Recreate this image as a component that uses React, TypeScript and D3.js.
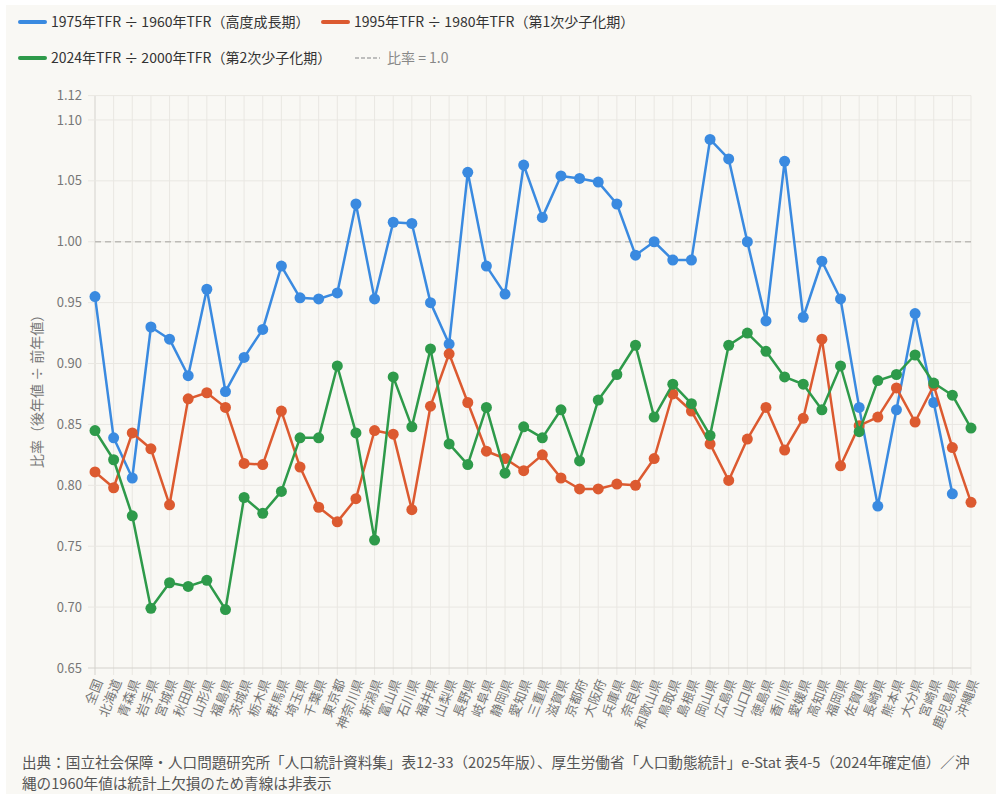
import React, { useEffect, useRef } from 'react';
import * as d3 from 'd3';

const prefectures = [
  '全国', '北海道', '青森県', '岩手県', '宮城県', '秋田県', '山形県', '福島県', '茨城県', '栃木県',
  '群馬県', '埼玉県', '千葉県', '東京都', '神奈川県', '新潟県', '富山県', '石川県', '福井県', '山梨県',
  '長野県', '岐阜県', '静岡県', '愛知県', '三重県', '滋賀県', '京都府', '大阪府', '兵庫県', '奈良県',
  '和歌山県', '鳥取県', '島根県', '岡山県', '広島県', '山口県', '徳島県', '香川県', '愛媛県', '高知県',
  '福岡県', '佐賀県', '長崎県', '熊本県', '大分県', '宮崎県', '鹿児島県', '沖縄県',
];

// 1975年TFR ÷ 1960年TFR (沖縄は欠損)
const ratio1975 = [
  0.955, 0.839, 0.806, 0.930, 0.920, 0.890, 0.961, 0.877, 0.905, 0.928,
  0.980, 0.954, 0.953, 0.958, 1.031, 0.953, 1.016, 1.015, 0.950, 0.916,
  1.057, 0.980, 0.957, 1.063, 1.020, 1.054, 1.052, 1.049, 1.031, 0.989,
  1.000, 0.985, 0.985, 1.084, 1.068, 1.000, 0.935, 1.066, 0.938, 0.984,
  0.953, 0.864, 0.783, 0.862, 0.941, 0.868, 0.793, null,
];

// 1995年TFR ÷ 1980年TFR
const ratio1995 = [
  0.811, 0.798, 0.843, 0.830, 0.784, 0.871, 0.876, 0.864, 0.818, 0.817,
  0.861, 0.815, 0.782, 0.770, 0.789, 0.845, 0.842, 0.780, 0.865, 0.908,
  0.868, 0.828, 0.822, 0.812, 0.825, 0.806, 0.797, 0.797, 0.801, 0.800,
  0.822, 0.875, 0.861, 0.834, 0.804, 0.838, 0.864, 0.829, 0.855, 0.920,
  0.816, 0.849, 0.856, 0.880, 0.852, 0.882, 0.831, 0.786,
];

// 2024年TFR ÷ 2000年TFR
const ratio2024 = [
  0.845, 0.821, 0.775, 0.699, 0.720, 0.717, 0.722, 0.698, 0.790, 0.777,
  0.795, 0.839, 0.839, 0.898, 0.843, 0.755, 0.889, 0.848, 0.912, 0.834,
  0.817, 0.864, 0.810, 0.848, 0.839, 0.862, 0.820, 0.870, 0.891, 0.915,
  0.856, 0.883, 0.867, 0.841, 0.915, 0.925, 0.910, 0.889, 0.883, 0.862,
  0.898, 0.844, 0.886, 0.891, 0.907, 0.884, 0.874, 0.847,
];

const yTicks = [0.65, 0.70, 0.75, 0.80, 0.85, 0.90, 0.95, 1.00, 1.05, 1.10, 1.12];

const seriesList = [
  { name: '1975年TFR ÷ 1960年TFR（高度成長期）', color: '#3a8ae0', values: ratio1975 },
  { name: '1995年TFR ÷ 1980年TFR（第1次少子化期）', color: '#dc5a30', values: ratio1995 },
  { name: '2024年TFR ÷ 2000年TFR（第2次少子化期）', color: '#2e9a4a', values: ratio2024 },
];

const FONT = '"Noto Sans CJK JP", "Noto Sans", sans-serif';

const App = () => {
  const svgRef = useRef<SVGSVGElement>(null);

  useEffect(() => {
    document.body.style.margin = '0';
    const width = 996;
    const height = 794;
    const margin = { top: 95.6, right: 25, bottom: 126, left: 95 };

    const svg = d3.select(svgRef.current);
    svg.selectAll('*').remove();
    svg.attr('width', width).attr('height', height).style('font-family', FONT);

    svg.append('rect').attr('width', width).attr('height', height).attr('fill', '#ffffff');
    svg.append('rect').attr('x', 6).attr('y', 5).attr('width', width - 6).attr('height', height - 5).attr('fill', '#f9f8f4');

    const x = d3.scalePoint<string>()
      .domain(prefectures)
      .range([margin.left, width - margin.right]);

    const y = d3.scaleLinear()
      .domain([0.65, 1.12])
      .range([height - margin.bottom, margin.top]);

    const plotBottom = height - margin.bottom;
    const plotTop = margin.top;

    // grid
    const grid = svg.append('g');
    grid.selectAll('.vgrid')
      .data(prefectures)
      .enter().append('line')
      .attr('x1', d => x(d)!)
      .attr('x2', d => x(d)!)
      .attr('y1', plotTop)
      .attr('y2', plotBottom + 7)
      .attr('stroke', (d, i) => (i === 0 ? '#d4d2cd' : '#e9e7e2'))
      .attr('stroke-width', 1);

    grid.selectAll('.hgrid')
      .data(yTicks)
      .enter().append('line')
      .attr('x1', margin.left - 7)
      .attr('x2', width - margin.right)
      .attr('y1', d => y(d))
      .attr('y2', d => y(d))
      .attr('stroke', d => (d === 0.65 ? '#d4d2cd' : '#e9e7e2'))
      .attr('stroke-width', 1);

    // y tick labels
    svg.append('g').selectAll('text')
      .data(yTicks)
      .enter().append('text')
      .attr('x', margin.left - 13)
      .attr('y', d => y(d))
      .attr('dy', '0.35em')
      .attr('text-anchor', 'end')
      .attr('font-size', 13)
      .attr('fill', '#777')
      .text(d => d.toFixed(2));

    // y title
    svg.append('text')
      .attr('transform', `translate(42,${(plotTop + plotBottom) / 2 + 6}) rotate(-90)`)
      .attr('text-anchor', 'middle')
      .attr('font-size', 14)
      .attr('fill', '#777')
      .text('比率（後年値 ÷ 前年値）');

    // x labels
    svg.append('g').selectAll('text')
      .data(prefectures)
      .enter().append('text')
      .attr('transform', d => `translate(${x(d)! + 4},${plotBottom + 12}) rotate(-68)`)
      .attr('text-anchor', 'end')
      .attr('dy', '0.35em')
      .attr('font-size', 13)
      .attr('fill', '#777')
      .text(d => d);

    // reference line 1.0
    svg.append('line')
      .attr('x1', margin.left)
      .attr('x2', width - margin.right)
      .attr('y1', y(1.0))
      .attr('y2', y(1.0))
      .attr('stroke', '#bdbbb7')
      .attr('stroke-width', 1.5)
      .attr('stroke-dasharray', '6,4');

    // series
    seriesList.forEach(s => {
      const pts = prefectures.map((p, i) => ({ p, v: s.values[i] }));
      const line = d3.line<{ p: string; v: number | null }>()
        .defined(d => d.v !== null)
        .x(d => x(d.p)!)
        .y(d => y(d.v as number));

      svg.append('path')
        .datum(pts)
        .attr('fill', 'none')
        .attr('stroke', s.color)
        .attr('stroke-width', 2.5)
        .attr('stroke-linejoin', 'round')
        .attr('d', line);

      svg.append('g').selectAll('circle')
        .data(pts.filter(d => d.v !== null))
        .enter().append('circle')
        .attr('cx', d => x(d.p)!)
        .attr('cy', d => y(d.v as number))
        .attr('r', 5.5)
        .attr('fill', s.color);
    });

    // legend
    const legendItems = [
      { ...seriesList[0], lx: 20, ly: 22 },
      { ...seriesList[1], lx: 323, ly: 22 },
      { ...seriesList[2], lx: 20, ly: 58 },
    ];
    const legend = svg.append('g');
    legendItems.forEach(item => {
      legend.append('line')
        .attr('x1', item.lx).attr('x2', item.lx + 25)
        .attr('y1', item.ly).attr('y2', item.ly)
        .attr('stroke', item.color).attr('stroke-width', 4).attr('stroke-linecap', 'round');
      legend.append('text')
        .attr('x', item.lx + 31).attr('y', item.ly).attr('dy', '0.35em')
        .attr('font-size', 14).attr('fill', '#333')
        .text(item.name);
    });
    legend.append('line')
      .attr('x1', 355).attr('x2', 380)
      .attr('y1', 58).attr('y2', 58)
      .attr('stroke', '#aaa').attr('stroke-width', 1.5).attr('stroke-dasharray', '4,2');
    legend.append('text')
      .attr('x', 387).attr('y', 58).attr('dy', '0.35em')
      .attr('font-size', 14).attr('fill', '#888')
      .text('比率 = 1.0');

    // footer
    const footer = [
      '出典：国立社会保障・人口問題研究所「人口統計資料集」表12-33（2025年版）、厚生労働省「人口動態統計」e-Stat 表4-5（2024年確定値）／沖',
      '縄の1960年値は統計上欠損のため青線は非表示',
    ];
    svg.append('g').selectAll('text')
      .data(footer)
      .enter().append('text')
      .attr('x', 22)
      .attr('y', (d, i) => 763 + i * 21)
      .attr('dy', '0.35em')
      .attr('font-size', 14.6)
      .attr('fill', '#555')
      .text(d => d);
  }, []);

  return (
    <div style={{ position: 'absolute', left: 0, top: 0, width: 996, height: 794 }}>
      <svg ref={svgRef}></svg>
    </div>
  );
};

export default App;
